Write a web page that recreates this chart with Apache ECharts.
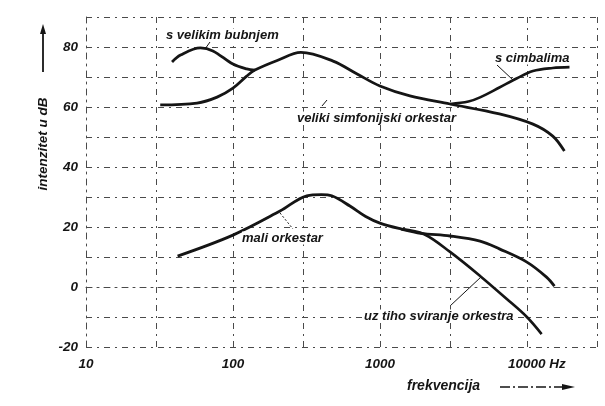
<!DOCTYPE html>
<html><head><meta charset="utf-8">
<script src="https://cdn.jsdelivr.net/npm/echarts@6/dist/echarts.min.js"></script>
<style>html,body{margin:0;padding:0;background:#fff}#c{width:605px;height:406px}</style>
</head><body><div id="c"></div>
<script>
// ---- data (frequency in Hz, intensity in dB) ----
const xTickLabels = [10, 100, 1000, 10000];
const vGridFreqs = [30, 100, 300, 1000, 3000, 10000, 30000];
const yTickLabels = [-20, 0, 20, 40, 60, 80];

const veliki = [[32,60.7],[57,61.3],[78,63.3],[100,66.3],[124,70.3],[141,72.3],[200,75.5],[290,78.2],[480,75.3],[700,71],[1000,67],[1600,63.7],[3000,61],[6500,57.7],[11000,54.3],[15000,50.3],[18000,45.3]];
const bubnjem = [[38.5,75],[44,77.3],[60,79.7],[73,78.7],[100,74.3],[124,72.7],[141,72.3]];
const cimbalima = [[3000,61],[4000,61.8],[4800,63.2],[6500,66.5],[8500,69.5],[11000,72],[15000,73],[19500,73.3]];
const mali = [[42,10.3],[100,17.3],[209,25.3],[318,30.4],[400,30.8],[470,30.4],[625,27],[800,23.5],[1000,21.3],[1400,19.3],[1900,17.9],[3000,17],[4800,15.3],[6500,12.7],[10000,8.3],[13600,3.3],[15400,0.3]];
const tiho = [[1400,19.3],[2000,17.6],[3000,11.7],[4800,3.7],[7300,-4],[10000,-10],[12600,-15.7]];

const labels = ['s velikim bubnjem','s cimbalima','veliki simfonijski orkestar','mali orkestar','uz tiho sviranje orkestra'];

// ---- chart ----
const ink = '#151515';
const FF = '"Liberation Sans", Arial, sans-serif';
const gridStyle = {color:'#4a4a4a', width:1, type:[6,5,2,5]};
const txtFont = 'italic bold 13px ' + FF;
function curve(name, data, w){
  return {name, type:'line', data, smooth:0.35, symbol:'none', silent:true,
    lineStyle:{color:ink, width:w||2.6}, z:5};
}
const chart = echarts.init(document.getElementById('c'), null, {renderer:'canvas'});
chart.setOption({
  animation:false,
  backgroundColor:'#fff',
  grid:{left:86, right:8, top:17, bottom:59},
  xAxis:{type:'log', logBase:10, min:10, max:30000,
    axisLine:{show:true, lineStyle:gridStyle},
    axisTick:{show:false},
    splitLine:{show:false},
    axisLabel:{margin:10, color:ink, fontFamily:FF, fontStyle:'italic', fontWeight:'bold', fontSize:13.5,
      showMaxLabel:false,
      formatter:v=>{
        const r = xTickLabels.find(t=>Math.abs(t-v)/t<1e-6);
        if(r===undefined) return '';
        return r===10000 ? '{h|'+r+' Hz}' : String(r);
      },
      rich:{h:{padding:[0,0,0,20], fontStyle:'italic', fontWeight:'bold', fontSize:13.5, color:ink, fontFamily:FF}}
    }
  },
  yAxis:{type:'value', min:-20, max:90, interval:10,
    axisLine:{show:true, lineStyle:gridStyle},
    axisTick:{show:false},
    splitLine:{show:true, lineStyle:gridStyle},
    axisLabel:{margin:8, color:ink, fontFamily:FF, fontStyle:'italic', fontWeight:'bold', fontSize:13.5,
      formatter:v=> yTickLabels.includes(v) ? String(v) : ''}
  },
  series:[
    {type:'line', data:[], silent:true,
      markLine:{silent:true, symbol:'none', label:{show:false},
        lineStyle:gridStyle, data:vGridFreqs.map(f=>({xAxis:f}))}},
    curve('veliki simfonijski orkestar', veliki, 2.8),
    curve('s velikim bubnjem', bubnjem, 2.8),
    curve('s cimbalima', cimbalima, 2.6),
    curve('mali orkestar', mali, 2.8),
    curve('uz tiho sviranje orkestra', tiho, 2.6)
  ],
  graphic:[
    {type:'text', x:43, y:144, rotation:Math.PI/2, z:10,
      style:{text:'intenzitet u dB', font:'italic bold 13.5px ' + FF, fill:ink, align:'center', verticalAlign:'middle'}},
    {type:'line', shape:{x1:43,y1:72,x2:43,y2:33}, style:{stroke:ink, lineWidth:1.8}},
    {type:'polygon', shape:{points:[[40,34],[46,34],[43,24]]}, style:{fill:ink}},
    {type:'text', x:407, y:386, z:10,
      style:{text:'frekvencija', font:'italic bold 14px ' + FF, fill:ink, align:'left', verticalAlign:'middle'}},
    {type:'line', shape:{x1:500,y1:387,x2:565,y2:387}, style:{stroke:ink, lineWidth:1.5, lineDash:[10,3,2,3]}},
    {type:'polygon', shape:{points:[[562,384],[562,390],[575,387]]}, style:{fill:ink}},
    {type:'text', x:166, y:35, z:10, style:{text:labels[0], font:txtFont, fill:ink, verticalAlign:'middle', backgroundColor:'#fff'}},
    {type:'line', shape:{x1:210,y1:42,x2:205,y2:49}, style:{stroke:ink, lineWidth:1}},
    {type:'text', x:495, y:58, z:10, style:{text:labels[1], font:txtFont, fill:ink, verticalAlign:'middle', backgroundColor:'#fff'}},
    {type:'line', shape:{x1:497,y1:65,x2:513,y2:80}, style:{stroke:ink, lineWidth:1}},
    {type:'text', x:297, y:118, z:10, style:{text:labels[2], font:txtFont, fill:ink, verticalAlign:'middle', backgroundColor:'#fff'}},
    {type:'line', shape:{x1:322,y1:106,x2:327,y2:100}, style:{stroke:ink, lineWidth:1}},
    {type:'text', x:242, y:238, z:10, style:{text:labels[3], font:txtFont, fill:ink, verticalAlign:'middle', backgroundColor:'#fff'}},
    {type:'line', shape:{x1:280,y1:213,x2:293,y2:229}, style:{stroke:ink, lineWidth:1, lineDash:[2,2]}},
    {type:'text', x:362, y:316, z:10, style:{text:labels[4], font:txtFont, fill:ink, verticalAlign:'middle', backgroundColor:'#fff', padding:[0,2]}},
    {type:'line', shape:{x1:450,y1:306,x2:481,y2:277}, style:{stroke:ink, lineWidth:1}}
  ]
});
</script></body></html>
